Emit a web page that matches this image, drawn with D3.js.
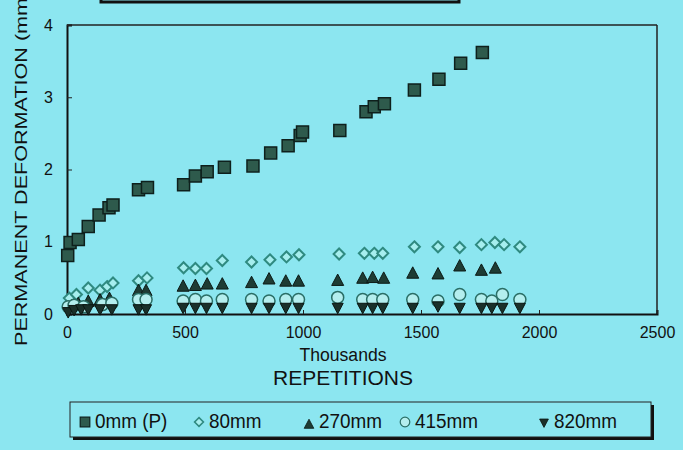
<!DOCTYPE html>
<html><head><meta charset="utf-8">
<script src="https://cdn.jsdelivr.net/npm/d3@7"></script>
<style>html,body{margin:0;padding:0;background:#8ce6f0;}svg{display:block;}</style>
</head><body>
<script>
// ---- data (x in thousands of repetitions, y in mm) ----
const xTicks = [0, 500, 1000, 1500, 2000, 2500];
const yTicks = [0, 1, 2, 3, 4];
const seriesNames = ["0mm (P)", "80mm", "270mm", "415mm", "820mm"];
const s0mm = [[3,0.81],[13,0.99],[48,1.03],[90,1.21],[136,1.37],[178,1.47],[195,1.51],[303,1.72],[341,1.75],[494,1.79],[544,1.91],[594,1.97],[667,2.03],[788,2.05],[863,2.23],[937,2.33],[988,2.47],[998,2.52],[1156,2.54],[1267,2.80],[1302,2.87],[1345,2.91],[1472,3.10],[1576,3.25],[1668,3.47],[1760,3.62]];
const s80mm = [[10,0.22],[40,0.27],[90,0.36],[140,0.33],[170,0.38],[195,0.43],[303,0.46],[339,0.50],[494,0.64],[544,0.63],[591,0.63],[658,0.74],[782,0.72],[860,0.75],[930,0.79],[983,0.82],[1153,0.83],[1260,0.84],[1302,0.84],[1338,0.84],[1472,0.93],[1572,0.93],[1664,0.92],[1756,0.96],[1813,0.99],[1852,0.96],[1919,0.93]];
const s270mm = [[20,0.12],[48,0.15],[90,0.18],[140,0.20],[180,0.22],[303,0.33],[335,0.33],[492,0.39],[544,0.40],[594,0.42],[658,0.42],[782,0.44],[856,0.49],[927,0.46],[981,0.46],[1147,0.47],[1253,0.50],[1295,0.51],[1342,0.50],[1465,0.57],[1572,0.56],[1664,0.67],[1756,0.61],[1815,0.64]];
const s415mm = [[5,0.10],[30,0.12],[70,0.10],[150,0.13],[190,0.15],[303,0.20],[335,0.20],[492,0.18],[544,0.20],[591,0.18],[658,0.20],[782,0.20],[856,0.18],[927,0.20],[981,0.20],[1147,0.23],[1253,0.20],[1295,0.20],[1338,0.20],[1465,0.20],[1572,0.18],[1664,0.27],[1756,0.20],[1800,0.18],[1845,0.27],[1919,0.20]];
const s820mm = [[5,0.02],[30,0.05],[60,0.06],[90,0.06],[140,0.06],[190,0.06],[303,0.06],[335,0.06],[492,0.08],[544,0.08],[591,0.08],[658,0.08],[782,0.08],[856,0.08],[927,0.08],[981,0.08],[1147,0.08],[1253,0.08],[1295,0.08],[1338,0.08],[1465,0.08],[1572,0.10],[1664,0.08],[1756,0.08],[1800,0.08],[1845,0.08],[1919,0.08]];

const W = 683, H = 450;
const BG = "#8ce6f0";
const svg = d3.select("body").append("svg").attr("width", W).attr("height", H);
svg.append("rect").attr("width", W).attr("height", H).attr("fill", BG);

const x = d3.scaleLinear().domain([0, 2500]).range([67, 657]);
const y = d3.scaleLinear().domain([0, 4]).range([314, 25]);

const FONT = "'Liberation Sans', Arial, sans-serif";

// title box (cut off at top)
svg.append("rect").attr("x", 101).attr("y", -30).attr("width", 358).attr("height", 32)
  .attr("fill", "none").attr("stroke", "#111").attr("stroke-width", 3);

// plot frame
svg.append("line").attr("x1", x(0)).attr("x2", x(2500)).attr("y1", y(4)).attr("y2", y(4)).attr("stroke", "#222").attr("stroke-width", 1.5);
svg.append("line").attr("x1", x(2500)).attr("x2", x(2500)).attr("y1", y(4)).attr("y2", y(0)).attr("stroke", "#222").attr("stroke-width", 1.5);

// axes
const yAxis = d3.axisLeft(y).tickValues(yTicks).tickSize(-5).tickPadding(14).tickFormat(d3.format("d"));
const gy = svg.append("g").attr("transform", `translate(${x(0)},0)`).call(yAxis);
const xAxis = d3.axisBottom(x).tickValues(xTicks).tickSize(-4).tickPadding(12).tickFormat(d3.format("d"));
const gx = svg.append("g").attr("transform", `translate(0,${y(0)})`).call(xAxis);
[gx, gy].forEach(g => {
  g.select(".domain").attr("stroke", "#111").attr("stroke-width", 2);
  g.selectAll(".tick line").attr("stroke", "#222");
  g.selectAll(".tick text").attr("font-family", FONT).attr("font-size", 16).attr("fill", "#111");
});
gx.selectAll(".tick text").attr("dy", "0.75em");

// symbol paths
function sq(s){const h=s/2;return `M${-h},${-h}H${h}V${h}H${-h}Z`;}
function dia(s){const h=s/2;return `M0,${-h}L${h},0L0,${h}L${-h},0Z`;}
function tri(s){const h=s/2;return `M0,${-h}L${h},${h*0.9}L${-h},${h*0.9}Z`;}
function triDown(s){const h=s/2;return `M0,${h}L${h},${-h*0.9}L${-h},${-h*0.9}Z`;}
function circ(s){const r=s/2;return `M${r},0A${r},${r} 0 1,1 ${-r},0A${r},${r} 0 1,1 ${r},0Z`;}

const styles = [
  {data: s0mm, path: sq(12), fill: "#2e5a4c", stroke: "#0e201c", sw: 1.5},
  {data: s80mm, path: dia(11), fill: "#a6eeee", stroke: "#2f8a80", sw: 2},
  {data: s270mm, path: tri(12), fill: "#1e3c34", stroke: "#0c1a16", sw: 1},
  {data: s415mm, path: circ(12), fill: "#b4eeee", stroke: "#2a6e66", sw: 1.5},
  {data: s820mm, path: triDown(11), fill: "#1a302a", stroke: "#0a1612", sw: 1}
];
styles.forEach(st => {
  svg.append("g").selectAll("path").data(st.data).join("path")
    .attr("d", st.path)
    .attr("transform", d => `translate(${x(d[0])},${y(d[1])})`)
    .attr("fill", st.fill).attr("stroke", st.stroke).attr("stroke-width", st.sw);
});

// axis titles
svg.append("text").attr("transform", "translate(343,361) scale(1.1,1.15)").attr("text-anchor", "middle")
  .attr("font-family", FONT).attr("font-size", 16).attr("fill", "#111").text("Thousands");
svg.append("text").attr("transform", "translate(343,385)").attr("text-anchor", "middle")
  .attr("font-family", FONT).attr("font-size", 21).attr("fill", "#111").text("REPETITIONS");
svg.append("text").attr("transform", "translate(27,346) rotate(-90) scale(1.27,1)")
  .attr("text-anchor", "start")
  .attr("font-family", FONT).attr("font-size", 17).attr("fill", "#111").text("PERMANENT DEFORMATION (mm)");

// legend
const lg = svg.append("g");
lg.append("rect").attr("x", 73).attr("y", 405).attr("width", 581).attr("height", 35).attr("fill", "#111");
lg.append("rect").attr("x", 70).attr("y", 402).attr("width", 581).attr("height", 35).attr("fill", BG).attr("stroke", "#222").attr("stroke-width", 1);
const legX = [85, 199, 309, 405, 544];
styles.forEach((st, i) => {
  lg.append("path").attr("d", st.path).attr("transform", `translate(${legX[i]},${i===2?424:i===4?423:422}) scale(0.8)`)
    .attr("fill", st.fill).attr("stroke", st.stroke).attr("stroke-width", st.sw);
  lg.append("text").attr("transform", `translate(${legX[i] + 10},428) scale(1.05,1.15)`)
    .attr("font-family", FONT).attr("font-size", 18).attr("fill", "#111").text(seriesNames[i]);
});
</script>
</body></html>
